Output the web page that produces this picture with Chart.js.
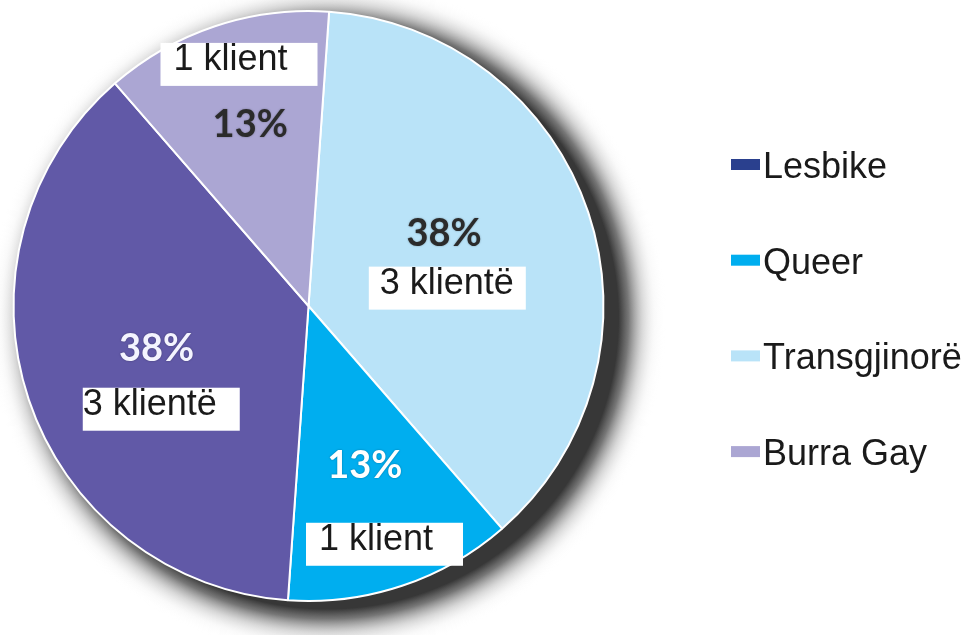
<!DOCTYPE html>
<html>
<head>
<meta charset="utf-8">
<script src="https://cdn.jsdelivr.net/npm/chart.js@4"></script>
<style>
  html, body { margin: 0; padding: 0; background: #fff; }
  #wrap { width: 974px; height: 635px; position: relative; }
</style>
</head>
<body>
<div id="wrap"><canvas id="chart-pie"></canvas></div>
<script>
// Slices, clockwise from the top
const categories = ["Transgjinorë", "Queer", "Lesbike", "Burra Gay"];
const clients = [3, 1, 3, 1];
const sliceColors = ["#B9E3F8", "#00AEEF", "#6159A7", "#ABA6D3"];
const legendColors = ["#B9E3F8", "#00AEEF", "#2A408E", "#ABA6D3"];
const legendOrder = ["Lesbike", "Queer", "Transgjinorë", "Burra Gay"];

const total = clients.reduce((a, b) => a + b, 0);
const percentLabels = clients.map((v) => Math.round((v / total) * 100) + "%");
const clientLabels = clients.map((v) => v + (v === 1 ? " klient" : " klientë"));

// Label placement, offsets from the pie centre in px (for radius 296)
const LABEL_LAYOUT = [
	{ pct: [136, -74], pctColor: "#2b2b2b", box: [60.5, -39.5], inset: 11 },
	{ pct: [56.5, 159], pctColor: "#ffffff", box: [-2.5, 217.5], inset: 13 },
	{ pct: [-152.5, 41.5], pctColor: "#f4f4ff", box: [-226.5, 82], inset: 0 },
	{ pct: [-58.5, -182.5], pctColor: "#2b2b2b", box: [-148.5, -264], inset: 13 },
];
const BOX_W = 157;
const BOX_H = 43;
const PCT_FONT = "bold 38px Lato";
const TEXT_FONT = "36px 'Liberation Sans'";

// Drop shadow under the pie (offset radial fade)
const pieShadow = {
	id: "pieShadow",
	beforeDatasetsDraw(chart) {
		const arc = chart.getDatasetMeta(0).data[0];
		if (!arc) return;
		const { ctx } = chart;
		const r = arc.outerRadius;
		const sx = arc.x + 19;
		const sy = arc.y + 12;
		const ro = r + 44;
		const grad = ctx.createRadialGradient(sx, sy, 0, sx, sy, ro);
		grad.addColorStop(0, "rgba(55,55,55,1)");
		grad.addColorStop((r - 4) / ro, "rgba(55,55,55,1)");
		grad.addColorStop((r + 6) / ro, "rgba(95,95,95,0.85)");
		grad.addColorStop((r + 20) / ro, "rgba(170,170,170,0.45)");
		grad.addColorStop((r + 32) / ro, "rgba(220,220,220,0.15)");
		grad.addColorStop(1, "rgba(255,255,255,0)");
		ctx.save();
		ctx.beginPath();
		ctx.arc(sx, sy, ro, 0, Math.PI * 2);
		ctx.fillStyle = grad;
		ctx.fill();
		ctx.restore();
	},
};

// Percent labels, client count boxes and the legend
const sliceLabels = {
	id: "sliceLabels",
	afterDatasetsDraw(chart) {
		const { ctx } = chart;
		const meta = chart.getDatasetMeta(0);
		const k = meta.data[0].outerRadius / 296;
		meta.data.forEach((arc, i) => {
			const lay = LABEL_LAYOUT[i];
			ctx.save();
			ctx.font = PCT_FONT;
			ctx.textAlign = "center";
			ctx.textBaseline = "middle";
			ctx.fillStyle = lay.pctColor;
			ctx.shadowColor = "rgba(0,0,0,0.35)";
			ctx.shadowBlur = 2;
			ctx.fillText(percentLabels[i], arc.x + lay.pct[0] * k, arc.y + lay.pct[1] * k + 1);
			ctx.restore();

			const bx = arc.x + lay.box[0] * k;
			const by = arc.y + lay.box[1] * k;
			ctx.save();
			ctx.fillStyle = "#ffffff";
			ctx.fillRect(bx, by, BOX_W, BOX_H);
			ctx.font = TEXT_FONT;
			ctx.textAlign = "left";
			ctx.textBaseline = "alphabetic";
			ctx.fillStyle = "#1a1a1a";
			ctx.fillText(clientLabels[i], bx + lay.inset, by + 27);
			ctx.restore();
		});
	},
	afterDraw(chart) {
		const { ctx } = chart;
		ctx.save();
		ctx.font = TEXT_FONT;
		ctx.textBaseline = "alphabetic";
		legendOrder.forEach((name, j) => {
			const idx = categories.indexOf(name);
			const base = 178 + j * 95.7;
			ctx.fillStyle = legendColors[idx];
			ctx.fillRect(731, base - 19, 29, 11);
			ctx.fillStyle = "#1a1a1a";
			ctx.fillText(name, 763, base);
		});
		ctx.restore();
	},
};

const DATA = {
	labels: categories,
	datasets: [
		{
			data: clients,
			backgroundColor: sliceColors,
			borderColor: "#ffffff",
			borderWidth: 2,
		},
	],
};

const CONFIG = {
	type: "pie",
	data: DATA,
	options: {
		responsive: true,
		maintainAspectRatio: false,
		animation: false,
		rotation: 4,
		layout: {
			padding: { left: 12.5, top: 10, right: 369.5, bottom: 33 },
		},
		plugins: {
			legend: { display: false },
			tooltip: { enabled: false },
			title: { display: false },
		},
	},
	plugins: [pieShadow, sliceLabels],
};

// Make sure canvas fonts are ready before drawing
Promise.all([document.fonts.load(PCT_FONT), document.fonts.load(TEXT_FONT)])
	.catch(() => {})
	.then(() => {
		new Chart(document.getElementById("chart-pie"), CONFIG);
	});
</script>
</body>
</html>
